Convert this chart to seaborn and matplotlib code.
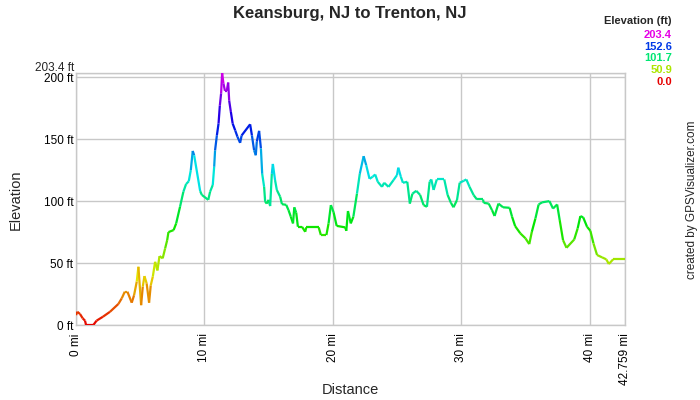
import numpy as np
import seaborn as sns
from matplotlib import pyplot as plt
from matplotlib.collections import LineCollection
from matplotlib.colors import hsv_to_rgb
import matplotlib.transforms as mtransforms

# profile (miles, feet)
dist_mi = [
    0, 0.1, 0.31, 0.52, 0.7, 0.78, 1.35, 1.6, 2.1, 2.65,
    3.3, 3.56, 3.8, 4.0, 4.34, 4.52, 4.73, 4.86, 5.07, 5.2,
    5.33, 5.5, 5.69, 5.82, 5.98, 6.16, 6.34, 6.5, 6.75, 6.94,
    7.1, 7.2, 7.6, 7.8, 8.1, 8.36, 8.57, 8.78, 8.94, 9.09,
    9.2, 9.67, 9.8, 10.3, 10.44, 10.65, 10.76, 10.83, 10.97, 11.1,
    11.2, 11.3, 11.38, 11.48, 11.6, 11.74, 11.85, 11.93, 12.06, 12.2,
    12.4, 12.57, 12.78, 12.9, 13.56, 13.7, 13.87, 14.0, 14.08, 14.26,
    14.4, 14.5, 14.65, 14.73, 14.86, 15.0, 15.12, 15.25, 15.33, 15.5,
    15.64, 15.9, 16.04, 16.37, 16.55, 16.73, 16.9, 17.0, 17.15, 17.28,
    17.6, 17.85, 17.93, 18.9, 19.07, 19.5, 19.67, 19.85, 20.06, 20.3,
    20.97, 21.05, 21.18, 21.4, 21.6, 21.88, 22.1, 22.4, 22.6, 22.86,
    23.1, 23.3, 23.5, 23.83, 24.0, 24.34, 24.73, 25.0, 25.1, 25.3,
    25.46, 25.8, 26.0, 26.2, 26.5, 26.8, 27.07, 27.33, 27.54, 27.67,
    27.85, 28.1, 28.68, 28.94, 29.2, 29.4, 29.67, 29.88, 30.2, 30.4,
    30.65, 30.97, 31.23, 31.7, 31.75, 32.14, 32.4, 32.6, 32.9, 33.26,
    33.77, 33.96, 34.2, 34.6, 35.0, 35.3, 35.5, 35.78, 36.03, 36.3,
    36.87, 37.15, 37.47, 37.67, 37.93, 38.2, 38.8, 39.07, 39.28, 39.5,
    39.8, 40.06, 40.3, 40.58, 40.97, 41.3, 41.5, 41.83, 42.759,
]
elev_ft = [
    8, 10.7, 8.9, 5.4, 3.5, 0, 0, 3.5, 6.7, 10.7,
    17, 21.5, 26.9, 26.9, 18, 24, 35, 47, 16, 31,
    39.5, 33.6, 18, 32, 39, 51, 44, 55.6, 53.8, 61.8,
    68.5, 75, 76.6, 82, 95.4, 107.5, 113.7, 116, 125, 140.5,
    137, 108, 105, 101, 107.5, 113, 127.7, 141, 153, 162.6,
    177, 187, 203.4, 195, 189, 189, 195.7, 181, 172, 162.6,
    157, 152, 147, 153, 162, 153, 141, 137, 148, 156.7,
    142.5, 122, 111.5, 99.5, 98, 101, 96, 122, 130, 117,
    109, 103.5, 97.5, 97, 92.7, 87.4, 82, 95, 90.6, 79.3,
    79.3, 75.2, 78.8, 78.8, 72.6, 72.6, 82, 96.8, 91, 80,
    78.8, 76, 92, 82, 87.4, 106, 122, 136.3, 129, 118,
    119.6, 121.5, 115.6, 111.5, 114.8, 111.5, 117, 121, 127, 119.6,
    114.8, 115.6, 98, 106, 108.3, 105, 96.8, 95.4, 115.6, 117.5,
    109, 117.5, 117.5, 105, 98.6, 95, 100.8, 114.8, 116.4, 117.5,
    111.5, 104.8, 101.3, 101.3, 98.6, 98, 92.7, 88, 98, 95,
    94.6, 87.4, 79.8, 74, 70, 65.3, 75.2, 86, 97.3, 99,
    100, 94, 97.3, 84.7, 68.5, 62.3, 69, 78, 87.9, 86.9,
    79.3, 76, 65.9, 56.5, 54.6, 53, 49.2, 53, 53,
]

title = "Keansburg, NJ to Trenton, NJ"
x_ticks = [0, 10, 20, 30, 40, 42.759]
x_labels = ["0 mi", "10 mi", "20 mi", "30 mi", "40 mi", "42.759 mi"]
y_ticks = [0, 50, 100, 150, 200]
y_labels = ["0 ft", "50 ft", "100 ft", "150 ft", "200 ft"]
y_max = 203.4
legend_values = [203.4, 152.6, 101.7, 50.9, 0.0]


def elev_color(v):
    # red at 0 ft -> magenta at the maximum
    return hsv_to_rgb([v / y_max * 300 / 360, 1.0, 0.9])


sns.set_theme(style="white")
plt.rcParams["font.family"] = ["Liberation Sans", "DejaVu Sans"]

fig = plt.figure(figsize=(7, 4), dpi=100)
ax = fig.add_axes([0.1086, 0.1875, 0.7843, 0.63])

x = np.array(dist_mi)
y = np.array(elev_ft)
pts = np.column_stack([x, y]).reshape(-1, 1, 2)
segs = np.concatenate([pts[:-1], pts[1:]], axis=1)
cols = [elev_color((a + b) / 2) for a, b in zip(y[:-1], y[1:])]
ax.add_collection(LineCollection(segs, colors=cols, linewidths=1.6, zorder=3))

ax.set_xlim(0, x_ticks[-1])
ax.set_ylim(0, y_max)
ax.set_xticks(x_ticks)
ax.set_xticklabels(x_labels, rotation=90, fontsize=8.5)
ax.set_yticks(y_ticks + [y_max])
ax.set_yticklabels(y_labels + [""], fontsize=8.5)
ax.tick_params(length=0, pad=2, colors="#000000")
ax.tick_params(axis="x", pad=6)
ax.grid(True, color="#c8c8c8", linewidth=1)
for s in ax.spines.values():
    s.set_color("#c8c8c8")
    s.set_linewidth(1)

trans = mtransforms.blended_transform_factory(ax.transAxes, ax.transData)
ax.text(-0.004, y_max - 0.5, "203.4 ft", transform=trans, ha="right",
        va="bottom", fontsize=8.5)

fig.text(0.5, 0.025, "Distance", ha="center", va="center", fontsize=10.5)
fig.text(0.022, 0.5, "Elevation", rotation=90, ha="center", va="center",
         fontsize=10.5)
fig.text(0.5, 0.967, title, ha="center", va="center", fontsize=12,
         fontweight="bold")
fig.text(0.988, 0.5, "created by GPSVisualizer.com", rotation=90,
         ha="center", va="center", fontsize=8.5)

fig.text(0.96, 0.948, "Elevation (ft)", ha="right", va="center",
         fontsize=8, fontweight="bold")
for i, v in enumerate(legend_values):
    fig.text(0.96, 0.912 - i * 0.029, f"{v:.1f}", ha="right", va="center",
             fontsize=8, fontweight="bold", color=elev_color(v))

fig.savefig("out.png", dpi=100)
